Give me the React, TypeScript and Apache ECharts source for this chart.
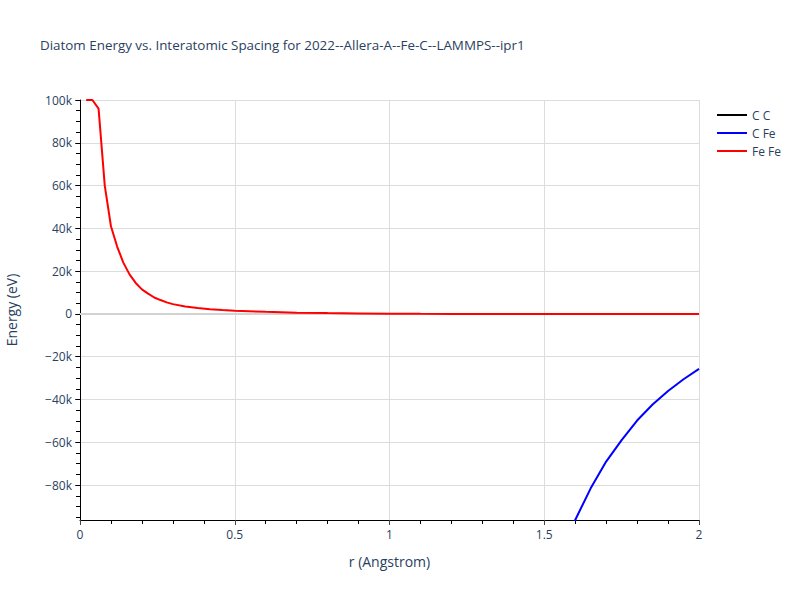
import React, { useEffect, useRef } from "react";
import * as echarts from "echarts";

const titleText = "Diatom Energy vs. Interatomic Spacing for 2022--Allera-A--Fe-C--LAMMPS--ipr1";
const seriesNames = ["C C", "C Fe", "Fe Fe"];
const seriesColors = ["#000000", "#0000ff", "#ff0000"];

// C C: no visible points in range
const ccR: number[] = [];
const ccE: number[] = [];

const cfeR = [1.4, 1.45, 1.5, 1.55, 1.6, 1.65, 1.7, 1.75, 1.8, 1.85, 1.9, 1.95, 2.0];
const cfeE = [-186000, -158000, -134000, -114000, -96300, -81500, -69000, -59000, -49800, -42300, -36000, -30500, -25700];

const fefeR = [0.02, 0.04, 0.06, 0.08, 0.1, 0.12, 0.14, 0.16, 0.18, 0.2, 0.22, 0.24, 0.26, 0.28, 0.3, 0.34, 0.38, 0.42, 0.46, 0.5, 0.6, 0.7, 0.8, 0.9, 1.0, 1.1, 1.2, 1.4, 1.6, 1.8, 2.0];
const fefeE = [100000, 100000, 96000, 60000, 41000, 31500, 24000, 18500, 14500, 11500, 9500, 7700, 6500, 5400, 4600, 3500, 2800, 2200, 1800, 1500, 1000, 600, 400, 250, 120, 50, 20, 5, 0, 0, 0];

const xTicks = [0, 0.5, 1, 1.5, 2];
const yLabelValues = [-80000, -60000, -40000, -20000, 0, 20000, 40000, 60000, 80000, 100000];
const yMinorTickValues = [
  -95000, -90000, -85000, -80000, -75000, -70000, -65000, -60000, -55000, -50000, -45000, -40000,
  -35000, -30000, -25000, -20000, -15000, -10000, -5000, 0, 5000, 10000, 15000, 20000, 25000, 30000,
  35000, 40000, 45000, 50000, 55000, 60000, 65000, 70000, 75000, 80000, 85000, 90000, 95000, 100000,
];
const yMin = -96300;
const yMax = 100000;

const zip = (r: number[], e: number[]) => r.map((v, i) => [v, e[i]]);

const FONT = '"Open Sans", verdana, arial, sans-serif';
const TXT = "#2a3f5f";

export default function App() {
  const ref = useRef<HTMLDivElement>(null);
  useEffect(() => {
    if (!ref.current) return;
    document.body.style.margin = "0";
    const chart = echarts.init(ref.current, undefined, { renderer: "svg" });
    const datas = [zip(ccR, ccE), zip(cfeR, cfeE), zip(fefeR, fefeE)];
    chart.setOption({
      animation: false,
      backgroundColor: "#ffffff",
      textStyle: { fontFamily: FONT },
      title: {
        text: titleText,
        left: 35,
        top: 33,
        textStyle: { fontFamily: FONT, fontSize: 13.4, fontWeight: "normal", color: TXT },
      },
      legend: {
        orient: "vertical",
        left: 712,
        top: 104,
        icon: "rect",
        itemWidth: 30,
        itemHeight: 2,
        itemGap: 6,
        data: seriesNames,
        textStyle: { fontFamily: FONT, fontSize: 12, color: TXT },
      },
      grid: { left: 80, right: 101, top: 100, bottom: 80, containLabel: false, outerBoundsMode: "none" },
      xAxis: [
        {
          type: "value",
          min: xTicks[0],
          max: xTicks[xTicks.length - 1],
          interval: 0.5,
          name: "r (Angstrom)",
          nameLocation: "middle",
          nameGap: 34,
          nameTextStyle: { fontFamily: FONT, fontSize: 14, color: TXT },
          axisLine: { onZero: false, lineStyle: { color: "#000000", width: 1 } },
          axisTick: { show: true, length: 5, lineStyle: { color: "#444444" } },
          minorTick: { show: true, splitNumber: 5, length: 4, lineStyle: { color: "#000000" } },
          axisLabel: {
            fontFamily: FONT,
            fontSize: 12,
            color: TXT,
            margin: 8,
            formatter: (v: number) => String(v),
          },
          splitLine: { show: true, lineStyle: { color: "#dcdcdc", width: 1 } },
        },
        {
          type: "value",
          min: xTicks[0],
          max: xTicks[xTicks.length - 1],
          position: "bottom",
          axisLine: { show: true, onZero: true, lineStyle: { color: "#d2d2d2", width: 2 } },
          axisTick: { show: false },
          axisLabel: { show: false },
          splitLine: { show: false },
        },
      ],
      yAxis: [
        {
          type: "value",
          min: yMin,
          max: yMax,
          splitNumber: 10,
          position: "left",
          name: "Energy (eV)",
          nameLocation: "middle",
          nameGap: 62,
          nameTextStyle: { fontFamily: FONT, fontSize: 14, color: TXT },
          axisLine: { show: true, lineStyle: { color: "#000000", width: 1 } },
          axisTick: { show: true, length: 5, customValues: yLabelValues, lineStyle: { color: "#444444" } },
          axisLabel: {
            fontFamily: FONT,
            fontSize: 12,
            color: TXT,
            margin: 8,
            customValues: yLabelValues,
            formatter: (v: number) => {
              if (v === 0) return "0";
              const k = Math.round(v / 1000);
              return (k < 0 ? "\u2212" + Math.abs(k) : String(k)) + "k";
            },
          },
          splitLine: { show: true, lineStyle: { color: "#dcdcdc", width: 1 } },
        },
        {
          type: "value",
          min: yMin,
          max: yMax,
          splitNumber: 10,
          position: "left",
          offset: 0,
          axisLine: { show: false },
          axisTick: { show: true, length: 4, customValues: yMinorTickValues, lineStyle: { color: "#000000" } },
          axisLabel: { show: false },
          splitLine: { show: false },
        },
      ],
      series: seriesNames.map((name, i) => ({
        name,
        type: "line",
        xAxisIndex: 0,
        yAxisIndex: 0,
        data: datas[i],
        symbol: "none",
        showSymbol: false,
        clip: true,
        lineStyle: { color: seriesColors[i], width: 2 },
        itemStyle: { color: seriesColors[i] },
      })),
    });
    return () => chart.dispose();
  }, []);
  return <div ref={ref} style={{ width: 800, height: 600 }} />;
}
